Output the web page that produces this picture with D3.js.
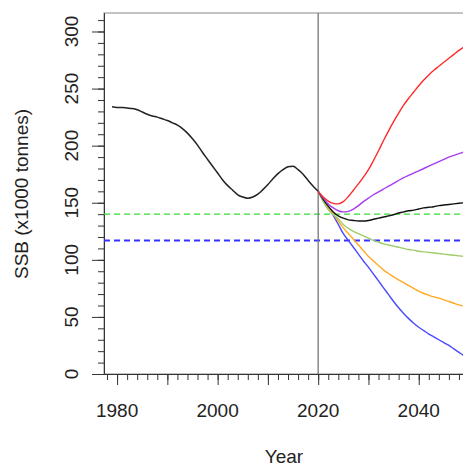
<!DOCTYPE html>
<html>
<head>
<meta charset="utf-8">
<script src="https://cdn.jsdelivr.net/npm/d3@7"></script>
<style>
  body { margin: 0; background: white; }
  text { font-family: "Liberation Sans", Arial, sans-serif; }
</style>
</head>
<body>
<div class="ssb-figure"></div>
<script>
// historic SSB (x1000 tonnes)
let histYears = [1979,1980,1981,1982,1983,1984,1985,1986,1987,1988,1989,1990,1991,1992,1993,1994,1995,1996,1997,1998,1999,
  2000,2001,2002,2003,2004,2005,2006,2007,2008,2009,2010,2011,2012,2013,2014,2015,2016,2017,2018,2019,2020];
let histSSB = [234,233.5,233.5,233,232.5,231.5,229.5,227.5,226,225,223.5,222,220,218,215,211,206,200.5,194,188,182,
  176,170,165,161,157,155,154,155,157.5,161.5,166,171,175.5,179,181.5,182,179,175,169.5,164.5,160];

// projections
let projYears = [2020,2021,2022,2023,2024,2025,2026,2027,2028,2029,2030,2031,2032,2033,2034,2035,2036,2037,2038,2039,
  2040,2041,2042,2043,2044,2045,2046,2047,2048,2049];
let projRed = [160,155,151.5,149.5,149,151,155.5,161,166.5,172.5,179,187,195.5,204.5,213,221,228.5,235.5,241.5,247,
  252.5,257.5,262,266,269.5,273,276.5,280,283.5,286.5];
let projPurple = [160,154,149,145.5,143,142,142.5,144.5,147.5,151,154,157,159.5,162,164.5,167,169.5,172,174,176,
  178,180,182,184,186,188,190,191.5,193,194.5];
let projBlack = [160,153,147,142,138.5,136.5,135,134.5,134,134,134.5,135.5,136.5,137.5,138.5,139.5,141,142,143,143.5,
  144.5,145.5,146,146.5,147.5,148,148.5,149,149.5,150];
let projGreen = [160,151,144,139.5,136,131,127.5,125,123,121,119,117,115.5,114,113,112,111,110,109,108.5,
  107.5,107,106.5,106,105.5,105,104.5,104,103.5,103];
let projOrange = [160,153,146,140,134,128,123,118,113,108,103,99,95,91,88,85,82.5,80,77.5,75,
  72.5,70.5,69,67.5,66.5,65,63.5,62,60.5,59.5];
let projBlue = [160,153,146,139,131,123,117,111,105,99,93.5,87.5,81.5,75.5,69.5,63.5,58,53,48.5,44.5,
  41,38,35,32.5,30,27.5,25,22,19,16];

// reference points
let refValues = [140, 117];
let refColors = ["#33dd33", "#3333ff"];

let yMajor = [0,50,100,150,200,250,300];
let yMinor = [0,10,20,30,40,50,60,70,80,90,100,110,120,130,140,150,160,170,180,190,200,210,220,230,240,250,260,270,280,290,300,310];
let xLabels = [1980,2000,2020,2040];
let xMajor = [1980,1990,2000,2010,2020,2030,2040];
let xMinor = [1978,1980,1982,1984,1986,1988,1990,1992,1994,1996,1998,2000,2002,2004,2006,2008,2010,2012,2014,2016,2018,
  2020,2022,2024,2026,2028,2030,2032,2034,2036,2038,2040,2042,2044,2046,2048];

let margin = {top: 13, left: 104},
  width = 362,
  height = 361;

let svg = d3.select("body").select(".ssb-figure")
  .append("svg")
  .attr("width", 463)
  .attr("height", 467);

let g = svg.append("g")
  .attr("transform", "translate(" + margin.left + "," + margin.top + ")");

let x = d3.scaleLinear().domain([1977.4, 2049.4]).range([0, width]);
let y = d3.scaleLinear().domain([0, 316.2]).range([height, 0]);

// box
g.append("rect")
  .attr("width", width).attr("height", height)
  .attr("fill", "none").attr("stroke", "#888").attr("stroke-width", 1);

// y axis
g.append("g")
  .call(d3.axisLeft(y).tickValues(yMinor).tickSize(6).tickSizeOuter(0).tickFormat(""))
  .call(a => a.selectAll("line,path").attr("stroke", "#333"));
g.append("g")
  .call(d3.axisLeft(y).tickValues(yMajor).tickSize(12).tickSizeOuter(0).tickFormat(""))
  .call(a => a.selectAll("line,path").attr("stroke", "#333"));

g.selectAll(".ylab")
  .data(yMajor)
  .enter().append("text")
  .attr("class", "ylab")
  .attr("transform", function(d) { return "translate(-26," + y(d) + ") rotate(-90)"; })
  .attr("text-anchor", "middle")
  .attr("font-size", 19)
  .attr("fill", "#222")
  .text(function(d) { return d; });

// x axis
g.append("g")
  .attr("transform", "translate(0," + height + ")")
  .call(d3.axisBottom(x).tickValues(xMinor).tickSize(6).tickSizeOuter(0).tickFormat(""))
  .call(a => a.selectAll("line,path").attr("stroke", "#333"));
g.append("g")
  .attr("transform", "translate(0," + height + ")")
  .call(d3.axisBottom(x).tickValues(xMajor).tickSize(11).tickSizeOuter(0).tickFormat(""))
  .call(a => a.selectAll("line,path").attr("stroke", "#333"));

g.selectAll(".xlab")
  .data(xLabels)
  .enter().append("text")
  .attr("class", "xlab")
  .attr("x", function(d) { return x(d); })
  .attr("y", height + 43)
  .attr("text-anchor", "middle")
  .attr("font-size", 19)
  .attr("fill", "#222")
  .text(function(d) { return d; });

// axis titles
svg.append("text")
  .attr("x", 284).attr("y", 463)
  .attr("text-anchor", "middle")
  .attr("font-size", 19)
  .attr("fill", "#222")
  .text("Year");

svg.append("text")
  .attr("transform", "translate(28,194) rotate(-90)")
  .attr("text-anchor", "middle")
  .attr("font-size", 19)
  .attr("fill", "#222")
  .text("SSB (x1000 tonnes)");

// reference lines
g.selectAll(".ref")
  .data(refValues)
  .enter().append("line")
  .attr("x1", 0).attr("x2", width)
  .attr("y1", function(d) { return y(d); })
  .attr("y2", function(d) { return y(d); })
  .attr("stroke", function(d, i) { return refColors[i]; })
  .attr("stroke-width", function(d, i) { return i == 1 ? 2 : 1.2; })
  .attr("stroke-dasharray", "6,4");

// current year
g.append("line")
  .attr("x1", x(2020)).attr("x2", x(2020))
  .attr("y1", 0).attr("y2", height)
  .attr("stroke", "#777").attr("stroke-width", 1.3);

let line = d3.line()
  .x(function(d) { return x(d[0]); })
  .y(function(d) { return y(d[1]); })
  .curve(d3.curveMonotoneX);

let projections = [
  {vals: projBlue, color: "#4a4aff"},
  {vals: projOrange, color: "#ffaa22"},
  {vals: projGreen, color: "#9fcc6a"},
  {vals: projBlack, color: "#111"},
  {vals: projPurple, color: "#a83cf0"},
  {vals: projRed, color: "#ff2a2a"}
];

g.append("clipPath").attr("id", "clip")
  .append("rect").attr("width", width).attr("height", height);

let plot = g.append("g").attr("clip-path", "url(#clip)");

plot.append("path")
  .attr("d", line(histYears.map(function(yr, i) { return [yr, histSSB[i]]; })))
  .attr("fill", "none")
  .attr("stroke", "#222")
  .attr("stroke-width", 1.5);

projections.forEach(function(p) {
  plot.append("path")
    .attr("d", line(projYears.map(function(yr, i) { return [yr, p.vals[i]]; })))
    .attr("fill", "none")
    .attr("stroke", p.color)
    .attr("stroke-width", 1.4);
});
</script>
</body>
</html>
